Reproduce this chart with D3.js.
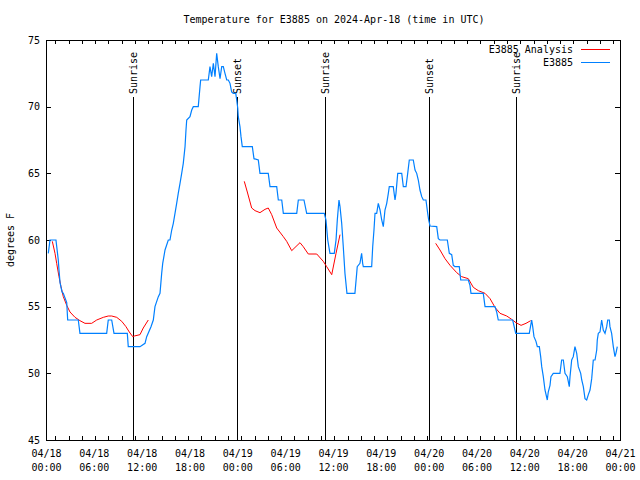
<!DOCTYPE html>
<html><head><meta charset="utf-8">
<script src="https://cdn.jsdelivr.net/npm/d3@7"></script>
<style>
body{margin:0;background:#fff;}
text{font-family:"DejaVu Sans Mono","Liberation Mono",monospace;font-size:10px;fill:#000;}
</style></head><body>
<svg id="c" width="640" height="480"></svg>
<script>
// ---- data (hours since 2024-04-18 00:00 UTC) ----
const title = "Temperature for E3885 on 2024-Apr-18 (time in UTC)";
const yLabel = "degrees F";
const yTicks = [45, 50, 55, 60, 65, 70, 75];
const xTickHours = [0, 6, 12, 18, 24, 30, 36, 42, 48, 54, 60, 66, 72];
const sunEvents = ["Sunrise", "Sunset", "Sunrise", "Sunset", "Sunrise"];
const sunHours = [10.95, 24.0, 34.96, 48.08, 58.99];

const obsHours = [0.29,0.50,1.25,1.54,1.63,1.76,2.01,2.17,2.60,2.72,4.05,4.26,7.61,7.81,8.24,8.53,10.20,10.32,11.79,12.42,12.63,13.17,13.46,13.67,14.09,14.30,14.51,14.64,14.93,15.34,15.55,15.77,15.97,16.18,16.39,16.59,16.81,17.02,17.22,17.44,17.56,17.65,18.06,18.28,18.48,19.10,19.32,19.40,20.36,20.57,20.78,20.99,21.20,21.41,21.61,21.83,22.04,22.24,22.45,22.67,22.87,23.08,23.29,23.49,23.80,23.92,24.05,24.12,24.33,24.46,24.62,25.88,26.09,26.63,26.84,27.88,28.10,28.94,29.14,29.57,29.77,31.45,31.65,32.36,32.70,34.91,35.12,35.34,35.62,36.16,36.38,36.54,36.75,36.88,37.09,37.29,37.50,37.75,38.75,38.97,39.04,39.38,39.59,39.72,39.80,40.85,40.98,41.14,41.27,41.48,41.68,41.90,42.11,42.31,42.52,42.74,42.94,43.06,43.56,43.78,43.90,44.12,44.62,44.82,45.16,45.37,45.57,46.07,46.29,46.50,46.70,46.91,47.13,47.33,47.66,47.88,48.00,48.17,49.01,49.21,49.42,50.34,50.59,50.89,51.09,51.30,51.84,52.02,52.97,53.18,53.31,54.85,55.07,56.32,56.53,56.73,58.54,58.92,60.62,60.80,60.92,61.05,61.21,61.46,61.63,61.88,62.05,62.18,62.38,62.59,62.88,63.00,63.22,63.34,63.63,64.47,64.68,64.89,65.10,65.39,65.51,65.64,65.73,65.94,66.14,66.35,66.57,66.77,67.07,67.20,67.40,67.61,67.82,68.03,68.24,68.45,68.65,68.87,69.08,69.15,69.28,69.49,69.70,69.90,70.12,70.33,70.46,70.66,70.74,70.95,71.16,71.37,71.49,71.66];
const obsTemps = [59.0,60,60,58.5,57.75,56.8,56.1,56.0,55.3,54,54,53,53,54,54,53,53,52,52,52.25,52.75,53.5,54,55,55.75,56,57.5,58.25,59.25,60,60,60.75,61.25,62,62.75,63.5,64.25,65,65.75,67,68.25,69,69.25,69.75,70,70,71.5,72,72,73,72.25,73.25,72.25,74,73,72.1,73,73,72.5,72,72,71.75,71.1,71,71,70.5,69.9,69.25,68.5,67.75,67,67,66.1,66,65,65,64,64,63,63,62,62,63,63,62,62,61.5,60,59,59,60,61.5,63,62.5,61.25,59.5,57.5,56,56,57.5,58,58.25,59,58.25,58,58,59.5,60.75,62,62,62.75,62.25,61.5,61,62.25,62.75,63.5,64,64,63,63.5,65,65,64,64,65,66,66,65.25,65,64.5,63.75,63.25,63,63,62,61.5,61.05,61,60.1,60,60,59,58.9,58.1,58,58,57,57,56.6,56,56,55,55,54.6,54,54,53,53,53.6,54,53.5,52.75,52.4,52,52,51.25,50.5,49.75,48.75,48,48.6,49.1,49.75,50,50,51,51,50,49.75,49.4,49,49.75,51,51.25,52,51.5,50.5,50,49.5,49,48.1,48,48.4,48.75,49.6,51,51,51.75,52.5,53,53.1,54,53.25,53,53.5,54,54,53.5,53,52,51.25,51.5,52];

// analysis (null = gap)
const anaHours = [0.79,1.13,1.34,1.63,1.88,2.17,2.60,3.01,3.64,4.26,4.89,5.73,6.36,7.19,7.81,8.24,8.87,9.50,10.03,10.45,10.88,11.08,11.79,12.20,12.83,null,
  24.87,25.25,25.80,26.22,26.84,27.47,27.88,28.31,28.94,29.77,30.19,30.82,31.86,32.27,32.90,33.96,34.78,35.21,35.84,36.38,36.88,null,
  48.88,49.42,50.05,50.68,51.52,52.14,52.97,53.60,54.23,55.07,55.70,56.32,56.95,57.79,58.41,58.95,59.59,60.21,60.80];
const anaTemps = [59.9,59,58.25,57.25,56.5,55.75,55.1,54.6,54.2,53.95,53.75,53.75,54,54.2,54.3,54.3,54.2,53.9,53.5,53.1,52.75,52.8,52.9,53.4,54,null,
  64.4,63.6,62.4,62.2,62.05,62.3,62.4,61.9,60.9,60.25,59.9,59.2,59.8,59.5,58.95,58.95,58.4,58,57.4,59,60.4,null,
  59.75,59.25,58.6,58.1,57.55,57.25,57.1,56.45,56.2,56,55.6,54.95,54.5,54.3,54.05,53.8,53.6,53.75,53.95];

const seriesNames = ["E3885 Analysis", "E3885"];
const seriesColors = ["#ff0000", "#0080ff"];

// ---- setup ----
const t0 = Date.UTC(2024, 3, 18);
const toDate = h => new Date(t0 + h * 3600e3);
const svg = d3.select("#c");
const x = d3.scaleUtc().domain([toDate(0), toDate(72)]).range([46, 620]);
const y = d3.scaleLinear().domain([45, 75]).range([440, 40]);

// title
svg.append("text").attr("x", 334).attr("y", 23).attr("text-anchor", "middle").text(title);
// y label
svg.append("text").attr("transform", "translate(14,240) rotate(-90)").attr("text-anchor", "middle").text(yLabel);

const g = svg.append("g").attr("shape-rendering", "crispEdges");

// minor x ticks (bottom and top)
const minorHours = d3.range(70 / 60, 72, 100 / 60);
const xMinorB = d3.axisBottom(x).tickValues(minorHours.map(toDate)).tickSize(-4).tickFormat("");
const xMinorT = d3.axisTop(x).tickValues(minorHours.map(toDate)).tickSize(-4).tickFormat("");
g.append("g").attr("transform", "translate(0,440)").call(xMinorB).call(s => s.select(".domain").remove());
g.append("g").attr("transform", "translate(0,40)").call(xMinorT).call(s => s.select(".domain").remove());

// x labels
const fmtD = d3.utcFormat("%m/%d"), fmtT = d3.utcFormat("%H:%M");
const xAx = d3.axisBottom(x).tickValues(xTickHours.map(toDate)).tickSize(0).tickPadding(0);
const xg = g.append("g").attr("transform", "translate(0,440)").call(xAx);
xg.select(".domain").remove();
xg.selectAll(".tick text").each(function(d) {
  const t = d3.select(this).text(null).attr("y", 0).attr("dy", null);
  t.append("tspan").attr("x", 0).attr("y", 17).text(fmtD(d));
  t.append("tspan").attr("x", 0).attr("y", 31).text(fmtT(d));
});

// y axes
const yAxL = d3.axisLeft(y).tickValues(yTicks).tickSize(-5).tickPadding(6);
const yg = g.append("g").attr("transform", "translate(46,0)").call(yAxL);
yg.select(".domain").remove();
const yAxR = d3.axisRight(y).tickValues(yTicks).tickSize(-5).tickFormat("");
g.append("g").attr("transform", "translate(620,0)").call(yAxR).call(s => s.select(".domain").remove());
svg.selectAll(".tick text").style("font-family", "DejaVu Sans Mono, monospace").style("font-size", "10px");

// border
g.append("rect").attr("x", x.range()[0]).attr("y", y.range()[1])
  .attr("width", x.range()[1] - x.range()[0]).attr("height", y.range()[0] - y.range()[1])
  .attr("fill", "none").attr("stroke", "#000");

// sunrise/sunset lines
sunHours.forEach((h, i) => {
  const px = Math.round(x(toDate(h))) + 0.5;
  g.append("line").attr("x1", px).attr("x2", px).attr("y1", 97).attr("y2", y(45)).attr("stroke", "#000");
  svg.append("text").attr("transform", `translate(${px},94) rotate(-90)`).attr("dy", "0.35em").text(sunEvents[i]);
});

// lines
const lineGen = d3.line().defined(d => d[1] !== null).x(d => x(toDate(d[0]))).y(d => y(d[1]));
const anaData = anaHours.map((h, i) => [h, anaTemps[i]]);
const obsData = obsHours.map((h, i) => [h, obsTemps[i]]);
svg.append("path").datum(anaData).attr("d", lineGen).attr("fill", "none").attr("stroke", seriesColors[0]).attr("stroke-width", 1);
svg.append("path").datum(obsData).attr("d", lineGen).attr("fill", "none").attr("stroke", seriesColors[1]).attr("stroke-width", 1.2);

// legend
seriesNames.forEach((n, i) => {
  const ly = 49.5 + i * 12.7;
  svg.append("text").attr("x", 573).attr("y", ly).attr("dy", "0.35em").attr("text-anchor", "end").text(n);
  svg.append("line").attr("x1", 581).attr("x2", 610).attr("y1", ly).attr("y2", ly)
    .attr("stroke", seriesColors[i]).attr("shape-rendering", "crispEdges");
});
</script></body></html>
